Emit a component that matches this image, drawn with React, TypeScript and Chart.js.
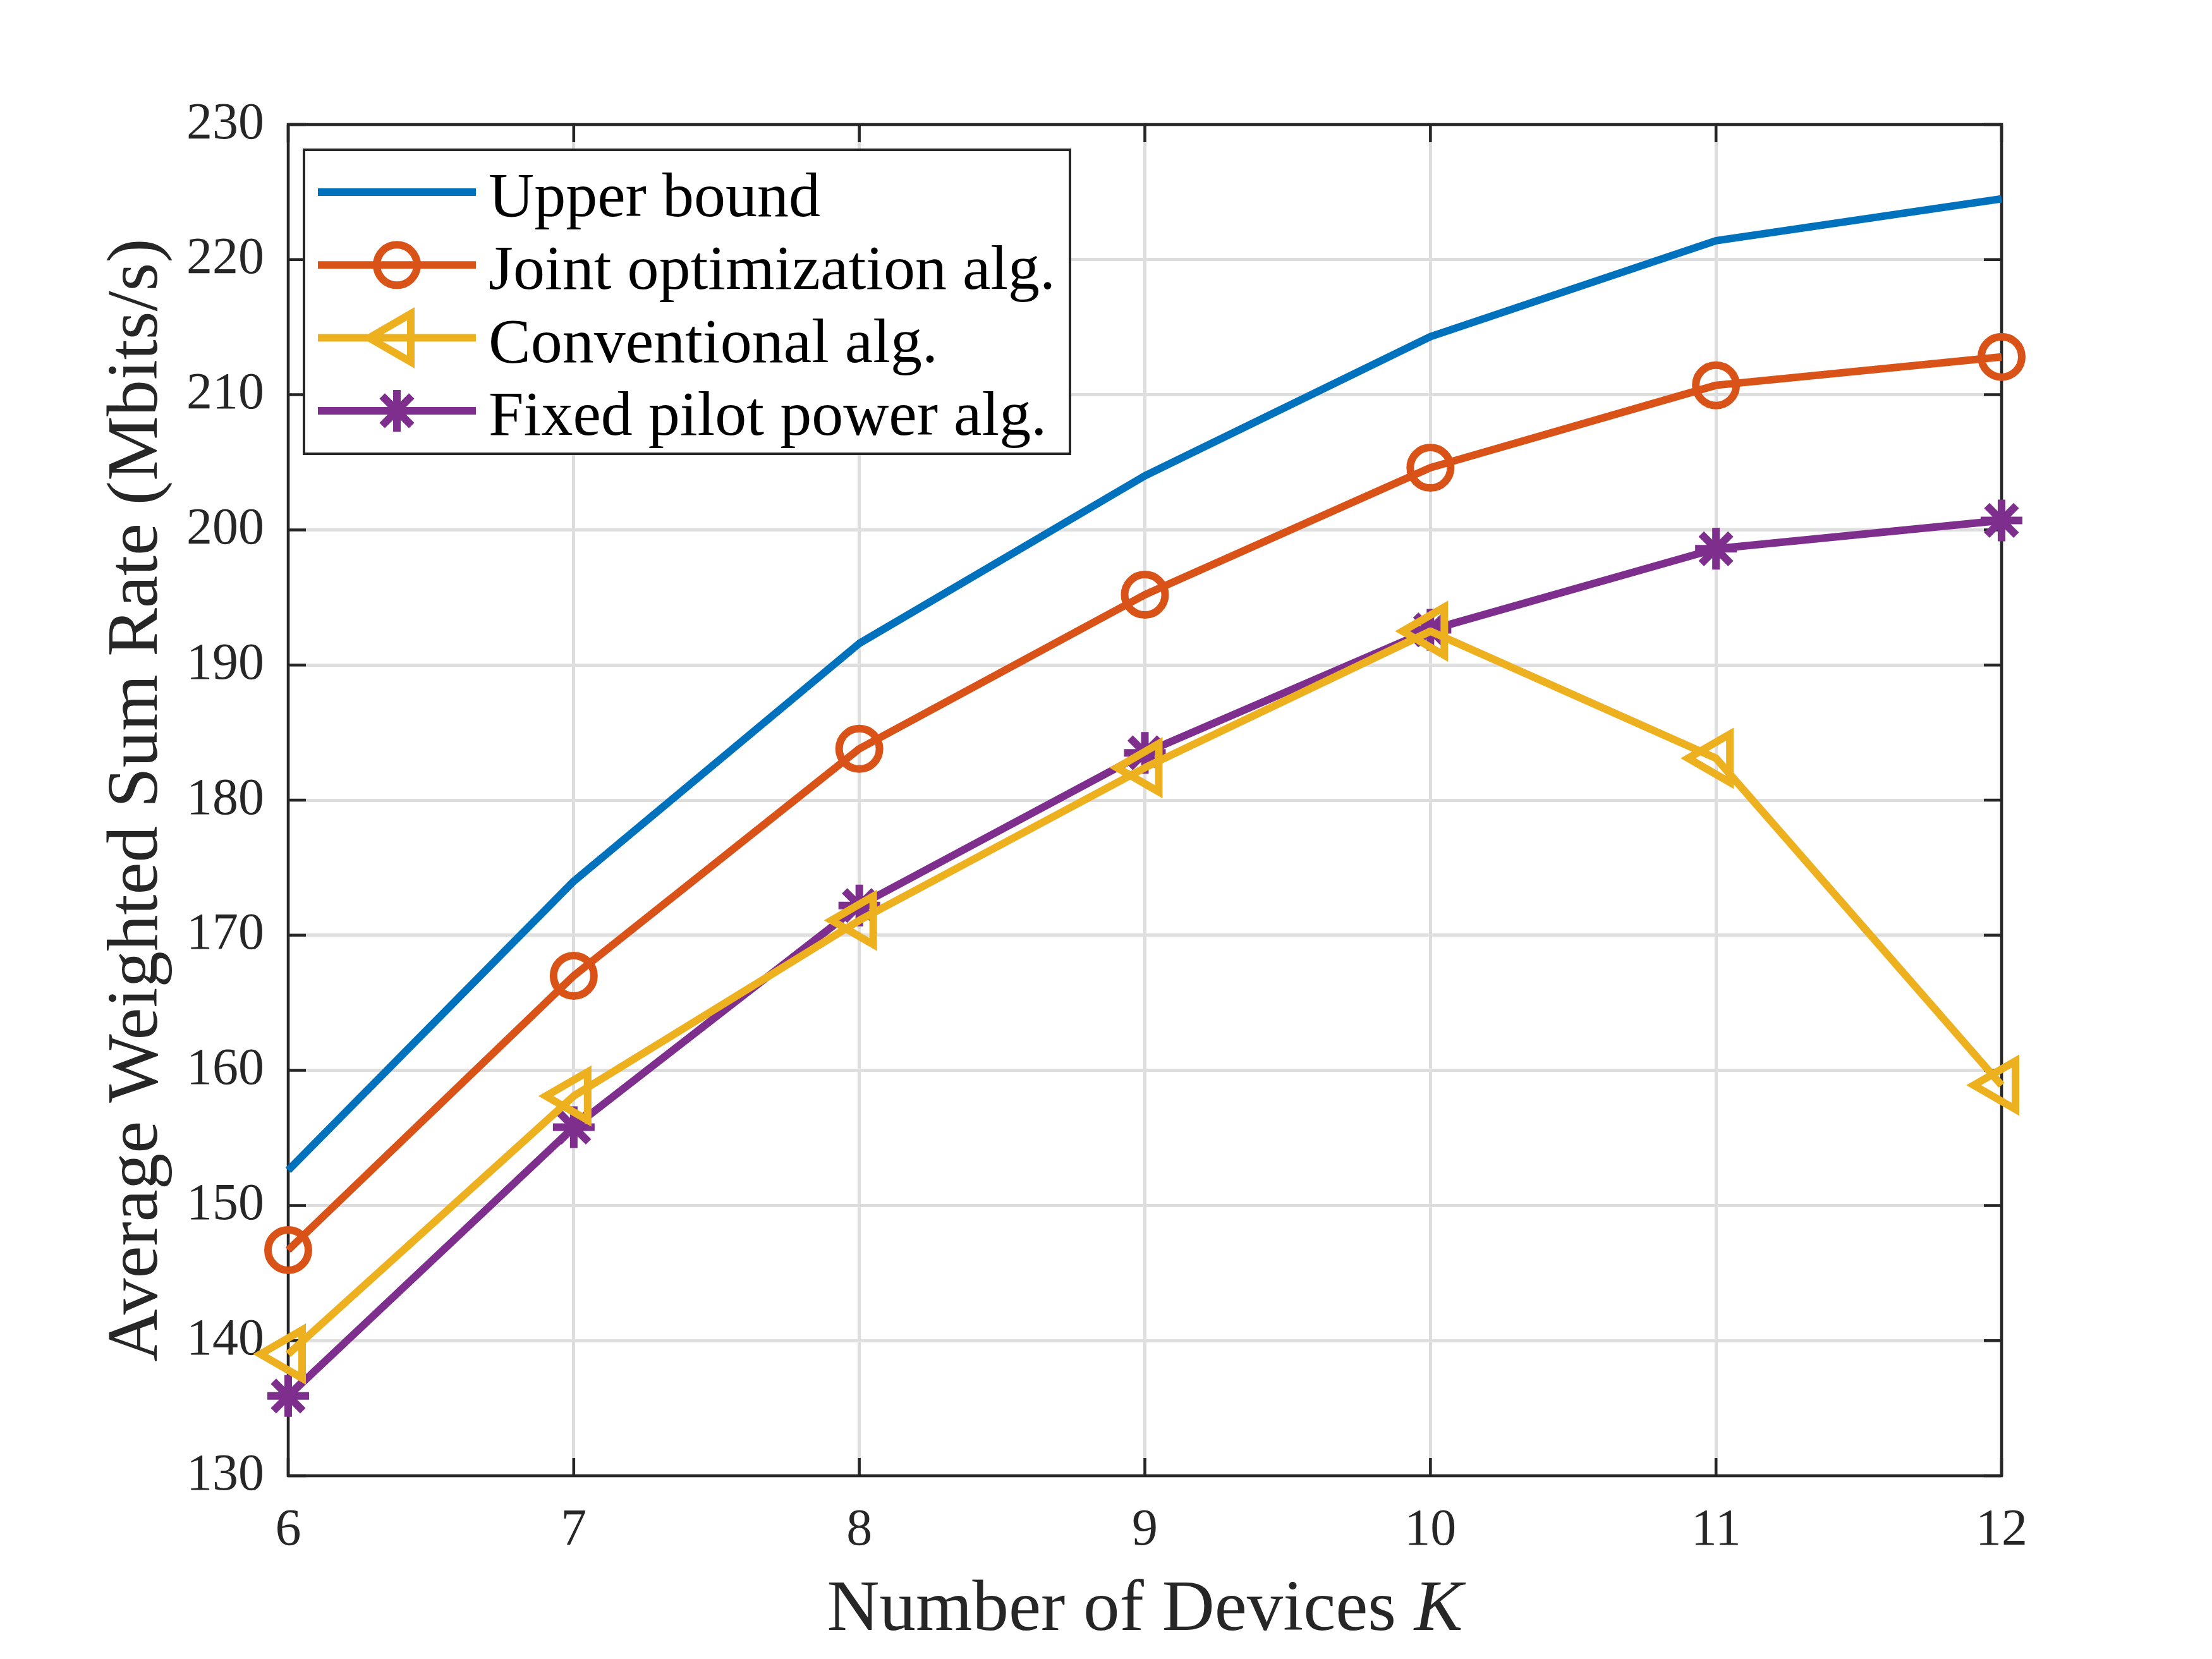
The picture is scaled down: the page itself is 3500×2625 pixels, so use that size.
import React, { useEffect, useRef } from 'react';
import { Chart, registerables, PointElement } from 'chart.js';

Chart.register(...registerables);

// ---------- data ----------
const xValues = [6, 7, 8, 9, 10, 11, 12];
const upperBound = [152.6, 174.0, 191.6, 204.0, 214.3, 221.4, 224.5];
const jointOpt = [146.7, 167.0, 183.8, 195.2, 204.6, 210.7, 212.8];
const conventional = [139.0, 158.1, 171.1, 182.4, 192.5, 183.1, 158.9];
const fixedPilot = [135.9, 155.8, 172.2, 183.5, 192.6, 198.6, 200.7];

const seriesLabels = ['Upper bound', 'Joint optimization alg.', 'Conventional alg.', 'Fixed pilot power alg.'];
const seriesColors = ['#0072BD', '#D95319', '#EDB120', '#7E2F8E'];
const yTitle = 'Average Weighted Sum Rate (Mbits/s)';
const xTitleMain = 'Number of Devices ';
const xTitleVar = 'K';
const xMin = 6, xMax = 12, xStep = 1;
const yMin = 130, yMax = 230, yStep = 10;

// ---------- layout / style ----------
const W = 3500;
const H = 2625;
const AREA = { left: 456, top: 197, right: 3167, bottom: 2335 };
const AXIS_COLOR = '#262626';
const FONT = '"Liberation Serif", "Times New Roman", Times, serif';
const TICK_FONT_SIZE = 82;
const TITLE_FONT_SIZE = 115;
const LEGEND_FONT_SIZE = 100;
const LINE_W = 12;

const LEGEND = {
  x0: 481, y0: 237, x1: 1693, y1: 718,
  lineX0: 503, lineX1: 753, textX: 773,
  rowY0: 304, rowStep: 115.3, baselineOffset: 38,
};

const axesPlugin = {
  id: 'matlabAxes',
  beforeDatasetsDraw(chart: any) {
    const { ctx, chartArea: a, scales } = chart;
    const xs = scales.x, ys = scales.y;
    const tl = 28;
    ctx.save();
    ctx.strokeStyle = AXIS_COLOR;
    ctx.lineWidth = 4.5;
    ctx.lineCap = 'butt';
    ctx.beginPath();
    xs.ticks.forEach((t: any) => {
      const px = xs.getPixelForValue(t.value);
      ctx.moveTo(px, a.bottom); ctx.lineTo(px, a.bottom - tl);
      ctx.moveTo(px, a.top); ctx.lineTo(px, a.top + tl);
    });
    ys.ticks.forEach((t: any) => {
      const py = ys.getPixelForValue(t.value);
      ctx.moveTo(a.left, py); ctx.lineTo(a.left + tl, py);
      ctx.moveTo(a.right, py); ctx.lineTo(a.right - tl, py);
    });
    ctx.stroke();
    ctx.lineJoin = 'miter';
    ctx.strokeRect(a.left, a.top, a.right - a.left, a.bottom - a.top);

    // axis titles
    ctx.fillStyle = AXIS_COLOR;
    ctx.textBaseline = 'alphabetic';
    // y title
    ctx.save();
    ctx.translate(248, (a.top + a.bottom) / 2);
    ctx.rotate(-Math.PI / 2);
    ctx.font = `${TITLE_FONT_SIZE}px ${FONT}`;
    ctx.textAlign = 'center';
    ctx.fillText(yTitle, 0, 0);
    ctx.restore();
    // x title with italic variable
    ctx.font = `${TITLE_FONT_SIZE}px ${FONT}`;
    const w1 = ctx.measureText(xTitleMain).width;
    ctx.font = `italic ${TITLE_FONT_SIZE}px ${FONT}`;
    const w2 = ctx.measureText(xTitleVar).width;
    const cx = (a.left + a.right) / 2;
    const start = cx - (w1 + w2) / 2;
    ctx.textAlign = 'left';
    ctx.font = `${TITLE_FONT_SIZE}px ${FONT}`;
    ctx.fillText(xTitleMain, start, 2579);
    ctx.font = `italic ${TITLE_FONT_SIZE}px ${FONT}`;
    ctx.fillText(xTitleVar, start + w1, 2579);
    ctx.restore();
  },
};

const legendPlugin = {
  id: 'matlabLegend',
  afterDatasetsDraw(chart: any) {
    const { ctx } = chart;
    const L = LEGEND;
    ctx.save();
    ctx.fillStyle = '#ffffff';
    ctx.fillRect(L.x0, L.y0, L.x1 - L.x0, L.y1 - L.y0);
    ctx.strokeStyle = AXIS_COLOR;
    ctx.lineWidth = 4;
    ctx.strokeRect(L.x0, L.y0, L.x1 - L.x0, L.y1 - L.y0);
    const big = { left: -1e6, right: 1e6, top: -1e6, bottom: 1e6 };
    chart.data.datasets.forEach((ds: any, i: number) => {
      const cy = L.rowY0 + i * L.rowStep;
      ctx.strokeStyle = ds.borderColor;
      ctx.lineWidth = ds.borderWidth;
      ctx.lineCap = 'butt';
      ctx.beginPath();
      ctx.moveTo(L.lineX0, cy);
      ctx.lineTo(L.lineX1, cy);
      ctx.stroke();
      const meta = chart.getDatasetMeta(i);
      const el = meta.data[0];
      if (el && el.options && el.options.radius > 0.1) {
        const p: any = new (PointElement as any)({ x: (L.lineX0 + L.lineX1) / 2, y: cy, options: el.options });
        p.draw(ctx, big);
      }
      ctx.fillStyle = '#000000';
      ctx.font = `${LEGEND_FONT_SIZE}px ${FONT}`;
      ctx.textAlign = 'left';
      ctx.textBaseline = 'alphabetic';
      ctx.fillText(ds.label, L.textX, cy + L.baselineOffset);
    });
    ctx.restore();
  },
};

function makeSeries(values: number[]) {
  return xValues.map((x, i) => ({ x, y: values[i] }));
}

export default function App() {
  const canvasRef = useRef<HTMLCanvasElement | null>(null);

  useEffect(() => {
    document.body.style.margin = '0';
    document.body.style.background = '#ffffff';
    const canvas = canvasRef.current;
    if (!canvas) return;
    const common = {
      borderWidth: LINE_W,
      backgroundColor: 'rgba(0,0,0,0)',
      pointBackgroundColor: 'rgba(0,0,0,0)',
      pointBorderWidth: LINE_W,
      borderJoinStyle: 'round' as const,
      clip: false as any,
      tension: 0,
    };
    const chart = new Chart(canvas, {
      type: 'line',
      data: {
        datasets: [
          { ...common, label: seriesLabels[0], data: makeSeries(upperBound), borderColor: seriesColors[0], pointBorderColor: seriesColors[0], pointRadius: 0 },
          { ...common, label: seriesLabels[1], data: makeSeries(jointOpt), borderColor: seriesColors[1], pointBorderColor: seriesColors[1], pointStyle: 'circle', pointRadius: 32 },
          { ...common, label: seriesLabels[2], data: makeSeries(conventional), borderColor: seriesColors[2], pointBorderColor: seriesColors[2], pointStyle: 'triangle', pointRotation: -90, pointRadius: 44 },
          { ...common, label: seriesLabels[3], data: makeSeries(fixedPilot), borderColor: seriesColors[3], pointBorderColor: seriesColors[3], pointStyle: 'star', pointRadius: 33, pointBorderWidth: 12 },
        ] as any,
      },
      options: {
        animation: false,
        responsive: false,
        devicePixelRatio: 1,
        events: [],
        layout: { padding: { left: 0, top: AREA.top, right: W - AREA.right, bottom: 0 } },
        plugins: {
          legend: { display: false },
          tooltip: { enabled: false },
          title: { display: false },
        },
        scales: {
          x: {
            type: 'linear',
            min: xMin,
            max: xMax,
            ticks: {
              stepSize: xStep,
              color: AXIS_COLOR,
              font: { family: FONT, size: TICK_FONT_SIZE },
              padding: 38,
              maxRotation: 0,
              autoSkip: false,
            },
            grid: { color: '#dedede', lineWidth: 5, drawTicks: false },
            border: { display: false },
            afterFit: (s: any) => { s.height = H - AREA.bottom; },
          },
          y: {
            type: 'linear',
            min: yMin,
            max: yMax,
            ticks: {
              stepSize: yStep,
              color: AXIS_COLOR,
              font: { family: FONT, size: TICK_FONT_SIZE },
              padding: 38,
              autoSkip: false,
            },
            grid: { color: '#dedede', lineWidth: 5, drawTicks: false },
            border: { display: false },
            afterFit: (s: any) => { s.width = AREA.left; },
          },
        },
      } as any,
      plugins: [axesPlugin, legendPlugin],
    });
    return () => chart.destroy();
  }, []);

  return (
    <div style={{ width: W, height: H, overflow: 'hidden', background: '#ffffff' }}>
      <canvas ref={canvasRef} width={W} height={H} style={{ width: W, height: H, display: 'block' }} />
    </div>
  );
}
